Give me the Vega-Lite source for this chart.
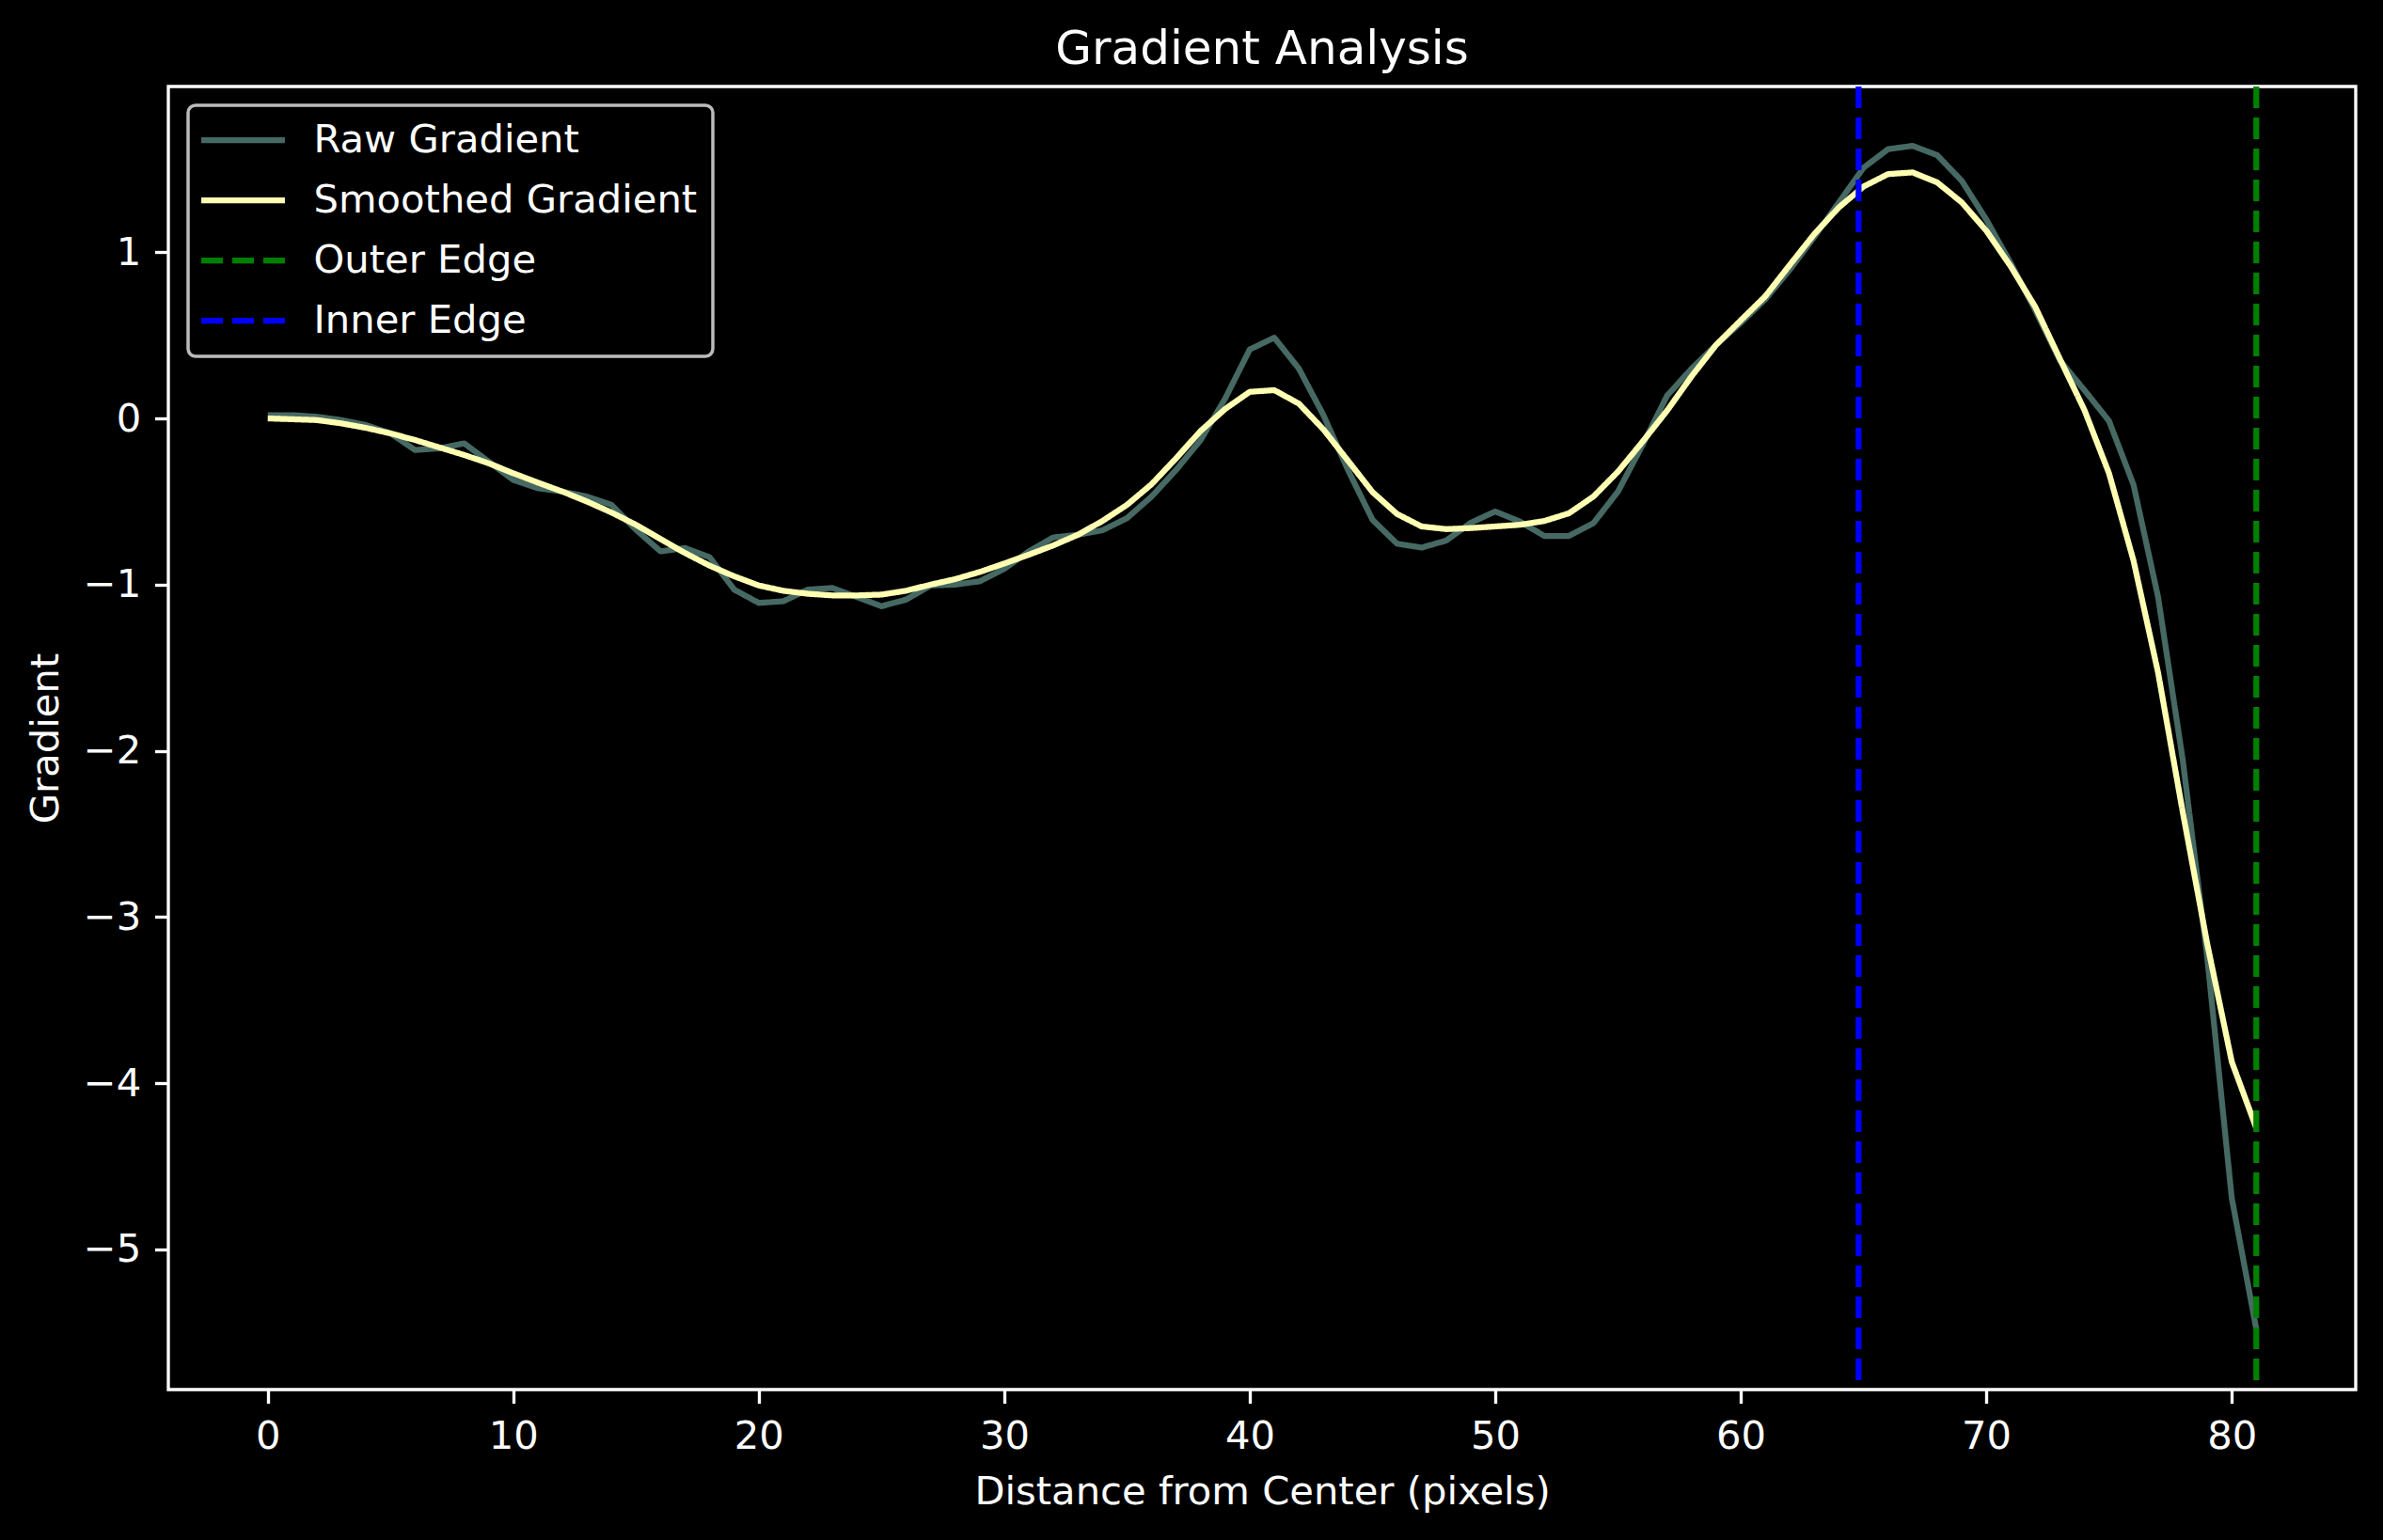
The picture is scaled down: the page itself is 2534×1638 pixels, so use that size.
{
  "$schema": "https://vega.github.io/schema/vega-lite/v6.json",
  "autosize": "none",
  "padding": {"left": 179, "top": 92, "right": 29, "bottom": 160},
  "width": 2326,
  "height": 1386,
  "background": "#000000",
  "title": {"text": "Gradient Analysis"},
  "datasets": {
    "edges": [
      {"series": "Outer Edge", "d": 81},
      {"series": "Inner Edge", "d": 64.8}
    ],
    "curves": [
      {"series": "Raw Gradient", "d": 0, "g": 0.02},
      {"series": "Raw Gradient", "d": 1, "g": 0.02},
      {"series": "Raw Gradient", "d": 2, "g": 0.01},
      {"series": "Raw Gradient", "d": 3, "g": -0.01},
      {"series": "Raw Gradient", "d": 4, "g": -0.04},
      {"series": "Raw Gradient", "d": 5, "g": -0.09},
      {"series": "Raw Gradient", "d": 6, "g": -0.19},
      {"series": "Raw Gradient", "d": 7, "g": -0.18},
      {"series": "Raw Gradient", "d": 8, "g": -0.15},
      {"series": "Raw Gradient", "d": 9, "g": -0.26},
      {"series": "Raw Gradient", "d": 10, "g": -0.37},
      {"series": "Raw Gradient", "d": 11, "g": -0.42},
      {"series": "Raw Gradient", "d": 12, "g": -0.44},
      {"series": "Raw Gradient", "d": 13, "g": -0.47},
      {"series": "Raw Gradient", "d": 14, "g": -0.52},
      {"series": "Raw Gradient", "d": 15, "g": -0.67},
      {"series": "Raw Gradient", "d": 16, "g": -0.8},
      {"series": "Raw Gradient", "d": 17, "g": -0.78},
      {"series": "Raw Gradient", "d": 18, "g": -0.835},
      {"series": "Raw Gradient", "d": 19, "g": -1.03},
      {"series": "Raw Gradient", "d": 20, "g": -1.11},
      {"series": "Raw Gradient", "d": 21, "g": -1.1},
      {"series": "Raw Gradient", "d": 22, "g": -1.03},
      {"series": "Raw Gradient", "d": 23, "g": -1.02},
      {"series": "Raw Gradient", "d": 24, "g": -1.075},
      {"series": "Raw Gradient", "d": 25, "g": -1.13},
      {"series": "Raw Gradient", "d": 26, "g": -1.09},
      {"series": "Raw Gradient", "d": 27, "g": -1.005},
      {"series": "Raw Gradient", "d": 28, "g": -1.0},
      {"series": "Raw Gradient", "d": 29, "g": -0.98},
      {"series": "Raw Gradient", "d": 30, "g": -0.905},
      {"series": "Raw Gradient", "d": 31, "g": -0.8},
      {"series": "Raw Gradient", "d": 32, "g": -0.716},
      {"series": "Raw Gradient", "d": 33, "g": -0.7},
      {"series": "Raw Gradient", "d": 34, "g": -0.673},
      {"series": "Raw Gradient", "d": 35, "g": -0.6},
      {"series": "Raw Gradient", "d": 36, "g": -0.47},
      {"series": "Raw Gradient", "d": 37, "g": -0.31},
      {"series": "Raw Gradient", "d": 38, "g": -0.13},
      {"series": "Raw Gradient", "d": 39, "g": 0.12},
      {"series": "Raw Gradient", "d": 40, "g": 0.415},
      {"series": "Raw Gradient", "d": 41, "g": 0.486},
      {"series": "Raw Gradient", "d": 42, "g": 0.3},
      {"series": "Raw Gradient", "d": 43, "g": 0.02},
      {"series": "Raw Gradient", "d": 44, "g": -0.31},
      {"series": "Raw Gradient", "d": 45, "g": -0.61},
      {"series": "Raw Gradient", "d": 46, "g": -0.754},
      {"series": "Raw Gradient", "d": 47, "g": -0.777},
      {"series": "Raw Gradient", "d": 48, "g": -0.735},
      {"series": "Raw Gradient", "d": 49, "g": -0.628},
      {"series": "Raw Gradient", "d": 50, "g": -0.56},
      {"series": "Raw Gradient", "d": 51, "g": -0.62},
      {"series": "Raw Gradient", "d": 52, "g": -0.707},
      {"series": "Raw Gradient", "d": 53, "g": -0.707},
      {"series": "Raw Gradient", "d": 54, "g": -0.63},
      {"series": "Raw Gradient", "d": 55, "g": -0.44},
      {"series": "Raw Gradient", "d": 56, "g": -0.16},
      {"series": "Raw Gradient", "d": 57, "g": 0.137},
      {"series": "Raw Gradient", "d": 58, "g": 0.3},
      {"series": "Raw Gradient", "d": 59, "g": 0.443},
      {"series": "Raw Gradient", "d": 60, "g": 0.575},
      {"series": "Raw Gradient", "d": 61, "g": 0.717},
      {"series": "Raw Gradient", "d": 62, "g": 0.895},
      {"series": "Raw Gradient", "d": 63, "g": 1.093},
      {"series": "Raw Gradient", "d": 64, "g": 1.3},
      {"series": "Raw Gradient", "d": 65, "g": 1.508},
      {"series": "Raw Gradient", "d": 66, "g": 1.62},
      {"series": "Raw Gradient", "d": 67, "g": 1.64},
      {"series": "Raw Gradient", "d": 68, "g": 1.584},
      {"series": "Raw Gradient", "d": 69, "g": 1.43},
      {"series": "Raw Gradient", "d": 70, "g": 1.197},
      {"series": "Raw Gradient", "d": 71, "g": 0.933},
      {"series": "Raw Gradient", "d": 72, "g": 0.65},
      {"series": "Raw Gradient", "d": 73, "g": 0.349},
      {"series": "Raw Gradient", "d": 74, "g": 0.17},
      {"series": "Raw Gradient", "d": 75, "g": -0.015},
      {"series": "Raw Gradient", "d": 76, "g": -0.4},
      {"series": "Raw Gradient", "d": 77, "g": -1.075},
      {"series": "Raw Gradient", "d": 78, "g": -2.05},
      {"series": "Raw Gradient", "d": 79, "g": -3.24},
      {"series": "Raw Gradient", "d": 80, "g": -4.69},
      {"series": "Raw Gradient", "d": 81, "g": -5.48},
      {"series": "Smoothed Gradient", "d": 0, "g": 0.0},
      {"series": "Smoothed Gradient", "d": 1, "g": -0.005},
      {"series": "Smoothed Gradient", "d": 2, "g": -0.01},
      {"series": "Smoothed Gradient", "d": 3, "g": -0.03},
      {"series": "Smoothed Gradient", "d": 4, "g": -0.057},
      {"series": "Smoothed Gradient", "d": 5, "g": -0.09},
      {"series": "Smoothed Gradient", "d": 6, "g": -0.13},
      {"series": "Smoothed Gradient", "d": 7, "g": -0.175},
      {"series": "Smoothed Gradient", "d": 8, "g": -0.22},
      {"series": "Smoothed Gradient", "d": 9, "g": -0.27},
      {"series": "Smoothed Gradient", "d": 10, "g": -0.33},
      {"series": "Smoothed Gradient", "d": 11, "g": -0.386},
      {"series": "Smoothed Gradient", "d": 12, "g": -0.44},
      {"series": "Smoothed Gradient", "d": 13, "g": -0.5},
      {"series": "Smoothed Gradient", "d": 14, "g": -0.566},
      {"series": "Smoothed Gradient", "d": 15, "g": -0.64},
      {"series": "Smoothed Gradient", "d": 16, "g": -0.726},
      {"series": "Smoothed Gradient", "d": 17, "g": -0.81},
      {"series": "Smoothed Gradient", "d": 18, "g": -0.886},
      {"series": "Smoothed Gradient", "d": 19, "g": -0.95},
      {"series": "Smoothed Gradient", "d": 20, "g": -1.005},
      {"series": "Smoothed Gradient", "d": 21, "g": -1.037},
      {"series": "Smoothed Gradient", "d": 22, "g": -1.055},
      {"series": "Smoothed Gradient", "d": 23, "g": -1.065},
      {"series": "Smoothed Gradient", "d": 24, "g": -1.065},
      {"series": "Smoothed Gradient", "d": 25, "g": -1.06},
      {"series": "Smoothed Gradient", "d": 26, "g": -1.037},
      {"series": "Smoothed Gradient", "d": 27, "g": -1.0},
      {"series": "Smoothed Gradient", "d": 28, "g": -0.967},
      {"series": "Smoothed Gradient", "d": 29, "g": -0.924},
      {"series": "Smoothed Gradient", "d": 30, "g": -0.873},
      {"series": "Smoothed Gradient", "d": 31, "g": -0.82},
      {"series": "Smoothed Gradient", "d": 32, "g": -0.764},
      {"series": "Smoothed Gradient", "d": 33, "g": -0.7},
      {"series": "Smoothed Gradient", "d": 34, "g": -0.617},
      {"series": "Smoothed Gradient", "d": 35, "g": -0.52},
      {"series": "Smoothed Gradient", "d": 36, "g": -0.396},
      {"series": "Smoothed Gradient", "d": 37, "g": -0.24},
      {"series": "Smoothed Gradient", "d": 38, "g": -0.075},
      {"series": "Smoothed Gradient", "d": 39, "g": 0.057},
      {"series": "Smoothed Gradient", "d": 40, "g": 0.16},
      {"series": "Smoothed Gradient", "d": 41, "g": 0.17},
      {"series": "Smoothed Gradient", "d": 42, "g": 0.089},
      {"series": "Smoothed Gradient", "d": 43, "g": -0.066},
      {"series": "Smoothed Gradient", "d": 44, "g": -0.254},
      {"series": "Smoothed Gradient", "d": 45, "g": -0.443},
      {"series": "Smoothed Gradient", "d": 46, "g": -0.575},
      {"series": "Smoothed Gradient", "d": 47, "g": -0.65},
      {"series": "Smoothed Gradient", "d": 48, "g": -0.666},
      {"series": "Smoothed Gradient", "d": 49, "g": -0.66},
      {"series": "Smoothed Gradient", "d": 50, "g": -0.65},
      {"series": "Smoothed Gradient", "d": 51, "g": -0.64},
      {"series": "Smoothed Gradient", "d": 52, "g": -0.617},
      {"series": "Smoothed Gradient", "d": 53, "g": -0.571},
      {"series": "Smoothed Gradient", "d": 54, "g": -0.47},
      {"series": "Smoothed Gradient", "d": 55, "g": -0.32},
      {"series": "Smoothed Gradient", "d": 56, "g": -0.14},
      {"series": "Smoothed Gradient", "d": 57, "g": 0.047},
      {"series": "Smoothed Gradient", "d": 58, "g": 0.254},
      {"series": "Smoothed Gradient", "d": 59, "g": 0.443},
      {"series": "Smoothed Gradient", "d": 60, "g": 0.59},
      {"series": "Smoothed Gradient", "d": 61, "g": 0.735},
      {"series": "Smoothed Gradient", "d": 62, "g": 0.924},
      {"series": "Smoothed Gradient", "d": 63, "g": 1.11},
      {"series": "Smoothed Gradient", "d": 64, "g": 1.27},
      {"series": "Smoothed Gradient", "d": 65, "g": 1.395},
      {"series": "Smoothed Gradient", "d": 66, "g": 1.47},
      {"series": "Smoothed Gradient", "d": 67, "g": 1.48},
      {"series": "Smoothed Gradient", "d": 68, "g": 1.42},
      {"series": "Smoothed Gradient", "d": 69, "g": 1.3},
      {"series": "Smoothed Gradient", "d": 70, "g": 1.13},
      {"series": "Smoothed Gradient", "d": 71, "g": 0.914},
      {"series": "Smoothed Gradient", "d": 72, "g": 0.67},
      {"series": "Smoothed Gradient", "d": 73, "g": 0.358},
      {"series": "Smoothed Gradient", "d": 74, "g": 0.05},
      {"series": "Smoothed Gradient", "d": 75, "g": -0.33},
      {"series": "Smoothed Gradient", "d": 76, "g": -0.856},
      {"series": "Smoothed Gradient", "d": 77, "g": -1.53},
      {"series": "Smoothed Gradient", "d": 78, "g": -2.365},
      {"series": "Smoothed Gradient", "d": 79, "g": -3.16},
      {"series": "Smoothed Gradient", "d": 80, "g": -3.87},
      {"series": "Smoothed Gradient", "d": 81, "g": -4.27}
    ]
  },
  "layer": [
    {
      "data": {"name": "curves"},
      "mark": {"type": "line", "strokeWidth": 6.25, "strokeJoin": "round"},
      "encoding": {
        "x": {
          "field": "d",
          "type": "quantitative",
          "scale": {"domain": [-4.05, 85.05], "nice": false, "zero": false},
          "axis": {"values": [0, 10, 20, 30, 40, 50, 60, 70, 80], "title": "Distance from Center (pixels)"}
        },
        "y": {
          "field": "g",
          "type": "quantitative",
          "scale": {"domain": [-5.843, 1.997], "nice": false, "zero": false},
          "axis": {"values": [-5, -4, -3, -2, -1, 0, 1], "title": "Gradient"}
        },
        "color": {"field": "series", "type": "nominal"},
        "strokeDash": {"field": "series", "type": "nominal"}
      }
    },
    {
      "data": {"name": "edges"},
      "mark": {"type": "rule", "strokeWidth": 6.25},
      "encoding": {
        "x": {"field": "d", "type": "quantitative"},
        "color": {"field": "series", "type": "nominal"},
        "strokeDash": {"field": "series", "type": "nominal"}
      }
    }
  ],
  "resolve": {"scale": {"color": "shared", "strokeDash": "shared"}},
  "encoding": {
    "color": {
      "field": "series",
      "type": "nominal",
      "scale": {
        "domain": ["Raw Gradient", "Smoothed Gradient", "Outer Edge", "Inner Edge"],
        "range": ["#466963", "#feffb3", "#008000", "#0000ff"]
      },
      "legend": {"title": null}
    },
    "strokeDash": {
      "field": "series",
      "type": "nominal",
      "scale": {
        "domain": ["Raw Gradient", "Smoothed Gradient", "Outer Edge", "Inner Edge"],
        "range": [[1, 0], [1, 0], [23, 10], [23, 10]]
      },
      "legend": {"title": null}
    }
  },
  "config": {
    "font": "DejaVu Sans",
    "view": {"stroke": "#ffffff", "strokeWidth": 3.33},
    "title": {"fontSize": 50, "fontWeight": "normal", "color": "#ffffff", "offset": 11, "anchor": "middle"},
    "axis": {
      "domain": false,
      "grid": false,
      "tickColor": "#ffffff",
      "tickWidth": 3.33,
      "tickSize": 14.6,
      "labelColor": "#ffffff",
      "labelFontSize": 41.7,
      "labelPadding": 14.6,
      "titleColor": "#ffffff",
      "titleFontSize": 41.7,
      "titleFontWeight": "normal",
      "titlePadding": 18
    },
    "legend": {
      "orient": "none",
      "legendX": 21,
      "legendY": 20,
      "fillColor": "#000000",
      "strokeColor": "#bbbbbb",
      "strokeWidth": 3.5,
      "cornerRadius": 8,
      "padding": 16,
      "rowPadding": 21,
      "labelFontSize": 41.7,
      "labelColor": "#ffffff",
      "labelLimit": 0,
      "symbolType": "M-2.54,0H2.54",
      "symbolSize": 1225,
      "symbolStrokeWidth": 6.25,
      "symbolOffset": 21.5,
      "labelOffset": 54
    }
  }
}
